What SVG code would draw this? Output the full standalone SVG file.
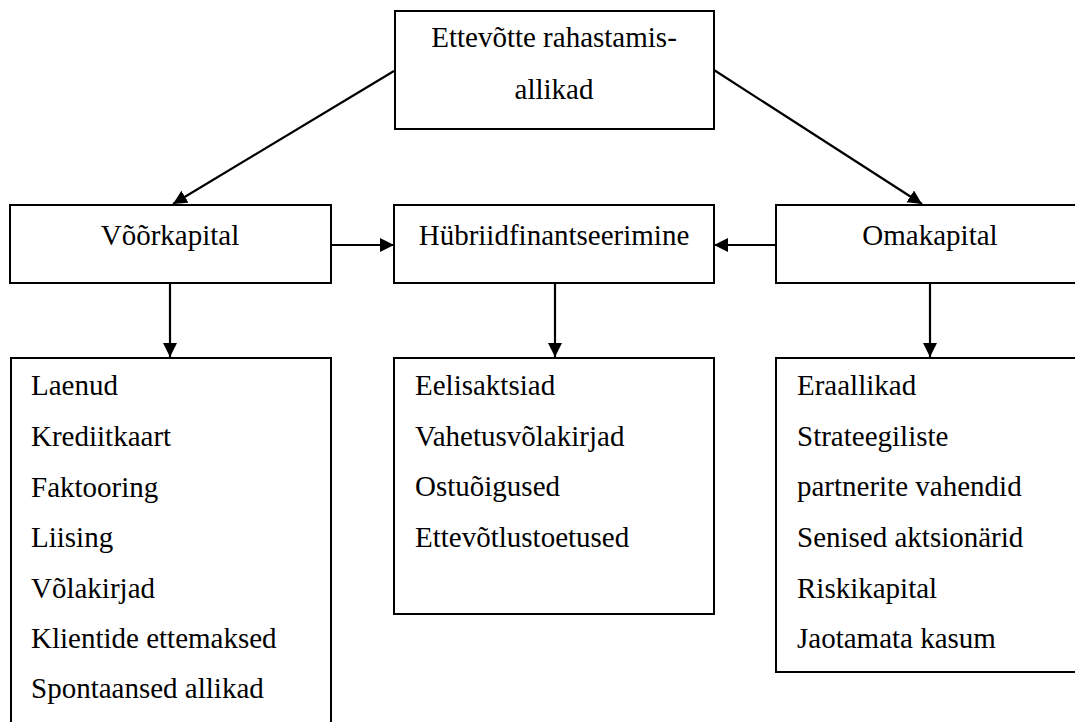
<svg xmlns="http://www.w3.org/2000/svg" width="1075" height="722" viewBox="0 0 1075 722">
<style>
.box{fill:#fff;stroke:#000;stroke-width:2}
.t{font-family:'Liberation Serif',Tinos,'Times New Roman',Times,'Nimbus Roman','DejaVu Serif',serif;font-size:29px;fill:#000}
.c{text-anchor:middle}
.edge{stroke:#000;stroke-width:2.2;fill:none;marker-end:url(#ah)}
</style>
<defs>
<marker id="ah" markerUnits="userSpaceOnUse" markerWidth="15" markerHeight="15" refX="14" refY="7" orient="auto">
<path d="M0,0 L14,7 L0,14 z" fill="#000"/>
</marker>
</defs>
<rect width="1075" height="722" fill="#fff"/>
<g id="connectors">
<line class="edge" x1="394" y1="71" x2="173" y2="204"/>
<line class="edge" x1="714" y1="70" x2="922" y2="204"/>
<line class="edge" x1="331" y1="245" x2="394" y2="245"/>
<line class="edge" x1="776" y1="245" x2="714" y2="245"/>
<line class="edge" x1="170" y1="283" x2="170" y2="357"/>
<line class="edge" x1="555" y1="283" x2="555" y2="357"/>
<line class="edge" x1="930" y1="283" x2="930" y2="357"/>
</g>
<g id="top">
<rect class="box" x="395" y="11" width="319" height="118"/>
<text class="t c" x="554" y="47" font-family="Liberation Serif, serif">Ettevõtte rahastamis-</text>
<text class="t c" x="554" y="99" font-family="Liberation Serif, serif">allikad</text>
</g>
<g id="voorkapital">
<rect class="box" x="10" y="205" width="321" height="78"/>
<text class="t c" x="170" y="245">Võõrkapital</text>
</g>
<g id="hybriid">
<rect class="box" x="394" y="205" width="320" height="78"/>
<text class="t c" x="554" y="245">Hübriidfinantseerimine</text>
</g>
<g id="omakapital">
<rect class="box" x="776" y="205" width="320" height="78"/>
<text class="t c" x="930" y="245">Omakapital</text>
</g>
<g id="voor-list">
<rect class="box" x="11" y="358" width="320" height="380"/>
<text class="t" x="31" y="395">Laenud</text>
<text class="t" x="31" y="446">Krediitkaart</text>
<text class="t" x="31" y="497">Faktooring</text>
<text class="t" x="31" y="547">Liising</text>
<text class="t" x="31" y="598">Võlakirjad</text>
<text class="t" x="31" y="648">Klientide ettemaksed</text>
<text class="t" x="31" y="698">Spontaansed allikad</text>
</g>
<g id="hybriid-list">
<rect class="box" x="394" y="358" width="320" height="256"/>
<text class="t" x="415" y="395">Eelisaktsiad</text>
<text class="t" x="415" y="446">Vahetusvõlakirjad</text>
<text class="t" x="415" y="496">Ostuõigused</text>
<text class="t" x="415" y="547">Ettevõtlustoetused</text>
</g>
<g id="oma-list">
<rect class="box" x="776" y="358" width="320" height="314"/>
<text class="t" x="797" y="395">Eraallikad</text>
<text class="t" x="797" y="446">Strateegiliste</text>
<text class="t" x="797" y="496">partnerite vahendid</text>
<text class="t" x="797" y="547">Senised aktsionärid</text>
<text class="t" x="797" y="598">Riskikapital</text>
<text class="t" x="797" y="648">Jaotamata kasum</text>
</g>
</svg>
